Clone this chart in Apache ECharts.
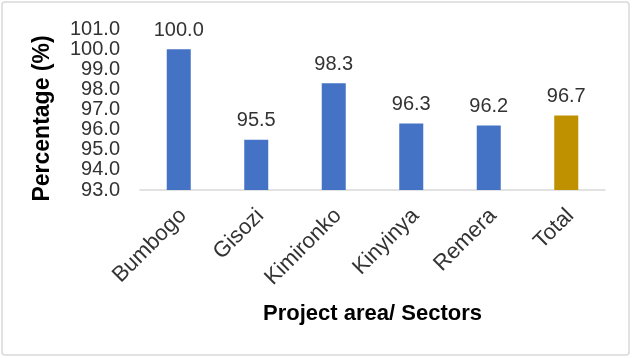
<!DOCTYPE html>
<html>
<head>
<meta charset="utf-8">
<script src="https://cdn.jsdelivr.net/npm/echarts@6/dist/echarts.min.js"></script>
<style>
  html, body { margin: 0; padding: 0; background: #fff; }
  #main { width: 632px; height: 358px; }
</style>
</head>
<body>
<div id="main"></div>
<script>
var sectors = ['Bumbogo', 'Gisozi', 'Kimironko', 'Kinyinya', 'Remera', 'Total'];
var percentages = [100.0, 95.5, 98.3, 96.3, 96.2, 96.7];
var barColors = ['#4472C4', '#4472C4', '#4472C4', '#4472C4', '#4472C4', '#BF9000'];

var chart = echarts.init(document.getElementById('main'));
var fontFamily = '"Liberation Sans", Arial, sans-serif';

chart.setOption({
    backgroundColor: '#fff',
    animation: false,
    graphic: [{
        type: 'rect',
        shape: { x: 2, y: 2, width: 627, height: 353, r: 3 },
        style: { fill: 'none', stroke: '#d9d9d9', lineWidth: 1.5 },
        silent: true
    }],
    grid: { left: 140, right: 27, top: 29, bottom: 168 },
    xAxis: {
        type: 'category',
        data: sectors,
        name: 'Project area/ Sectors',
        nameLocation: 'middle',
        nameGap: 113,
        nameTextStyle: { fontFamily: fontFamily, fontSize: 22, fontWeight: 'bold', color: '#000' },
        axisLine: { lineStyle: { color: '#d9d9d9', width: 1.5 } },
        axisTick: { show: false },
        axisLabel: {
            rotate: 45,
            margin: 4,
            verticalAlign: 'top',
            padding: [5, 10, 0, 0],
            fontFamily: fontFamily,
            fontSize: 22,
            color: '#333'
        }
    },
    yAxis: {
        type: 'value',
        min: 93,
        max: 101,
        interval: 1,
        name: 'Percentage (%)',
        nameLocation: 'middle',
        nameRotate: 90,
        nameGap: 86,
        nameTextStyle: {
            fontFamily: fontFamily, fontSize: 23, fontWeight: 'bold', color: '#000',
            padding: [0, 18, 0, 0]
        },
        axisLine: { show: false },
        axisTick: { show: false },
        splitLine: { show: false },
        axisLabel: {
            margin: 20,
            fontFamily: fontFamily,
            fontSize: 20,
            color: '#333',
            formatter: function (v) { return v.toFixed(1); }
        }
    },
    series: [{
        type: 'bar',
        barWidth: 24,
        data: percentages.map(function (v, i) {
            return { value: v, itemStyle: { color: barColors[i] } };
        }),
        label: {
            show: true,
            position: 'top',
            distance: 9,
            fontFamily: fontFamily,
            fontSize: 20,
            color: '#333',
            formatter: function (p) { return p.value.toFixed(1); }
        }
    }]
});
</script>
</body>
</html>
